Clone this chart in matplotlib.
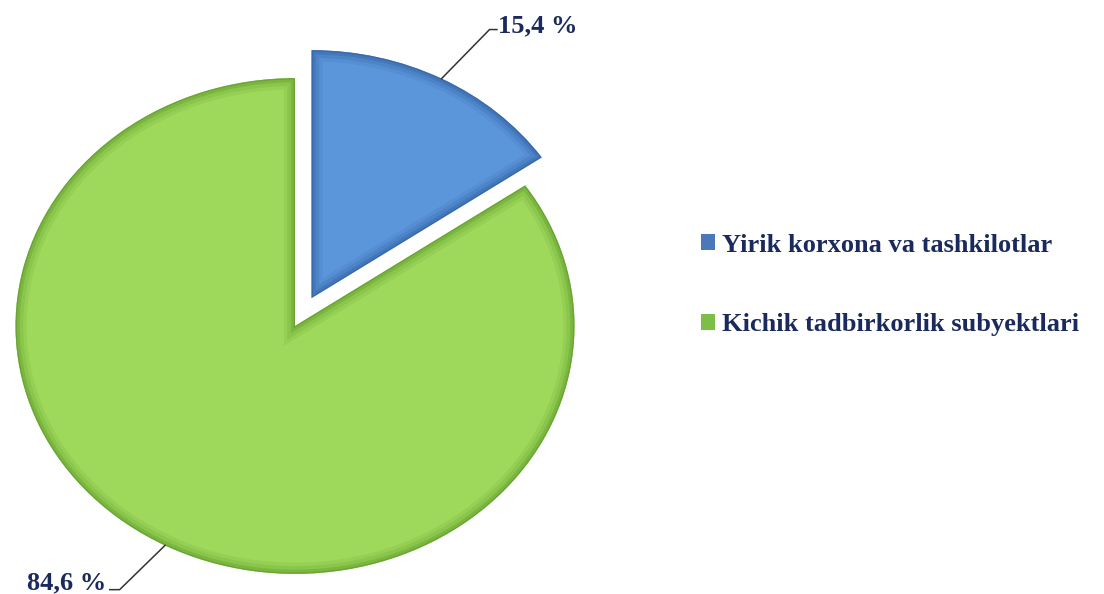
import numpy as np
import matplotlib.pyplot as plt
from matplotlib.patches import Patch, PathPatch

labels = ['Yirik korxona va tashkilotlar', 'Kichik tadbirkorlik subyektlari']
values = [15.4, 84.6]
value_text = ['15,4 %', '84,6 %']
colors = ['#5B96DB', '#9ED95B']
edge_colors = ['#2E5C9A', '#5A9428']
legend_colors = ['#4B78B8', '#7DBF46']
text_color = '#1B2A5C'

plt.rcParams['font.family'] = ['Liberation Serif', 'DejaVu Serif']

fig = plt.figure(figsize=(11.04, 5.94), dpi=100)
ax = fig.add_axes([0, 0, 1, 1])

explode = [0.13, 0.0]
wedges, _ = ax.pie(values, startangle=90, counterclock=False, explode=explode,
                   colors=colors, radius=1.02, center=(0, 0),
                   wedgeprops={'edgecolor': 'none'})

# inner bevel: strokes clipped to each wedge
for w, ec in zip(wedges, edge_colors):
    for lw, a in [(16, 0.12), (11, 0.18), (6, 0.3), (2, 0.5)]:
        pp = PathPatch(w.get_path(), transform=w.get_transform(), fc='none',
                       ec=ec, lw=lw, alpha=a, joinstyle='miter')
        ax.add_patch(pp)
        pp.set_clip_path(w)

# map unit circle to an ellipse (stretched horizontally like the reference)
ax.set_aspect('auto')
ax.set_xlim(-295 / 274, (1104 - 295) / 274)
ax.set_ylim(-268 / 243, (594 - 268) / 243)
ax.axis('off')

# leader lines and value labels
total = sum(values)
start = 90
elbow = [(0.71, 1.22), (-0.64, -1.085)]
for i, (v, t) in enumerate(zip(values, value_text)):
    mid = np.deg2rad(start - v / total * 360 / 2)
    start -= v / total * 360
    ox = explode[i] * np.cos(mid)
    oy = explode[i] * np.sin(mid)
    ax0 = 1.02 * np.cos(mid) + ox
    ay0 = 1.02 * np.sin(mid) + oy
    ex, ey = elbow[i]
    if ex > 0:
        hx = ex + 0.027
        ax.plot([ax0, ex, hx], [ay0, ey, ey], color='#333333', lw=1.1)
        ax.text(hx + 0.003, ey + 0.015, t, ha='left', va='center', fontsize=19,
                fontweight='bold', color=text_color)
    else:
        hx = ex - 0.036
        ax.plot([ax0, ex, hx], [ay0, ey, ey], color='#333333', lw=1.1)
        ax.text(hx - 0.012, ey + 0.03, t, ha='right', va='center', fontsize=19,
                fontweight='bold', color=text_color)

handles = [Patch(facecolor=c, edgecolor='none') for c in legend_colors]
leg = fig.legend(handles, labels, loc='center left', bbox_to_anchor=(0.613, 0.52),
                 frameon=False, handlelength=0.55, handleheight=0.55, handletextpad=0.25,
                 labelspacing=2.15, prop={'size': 19, 'weight': 'bold'})
for txt in leg.get_texts():
    txt.set_color(text_color)

fig.savefig('out.png', dpi=100)
